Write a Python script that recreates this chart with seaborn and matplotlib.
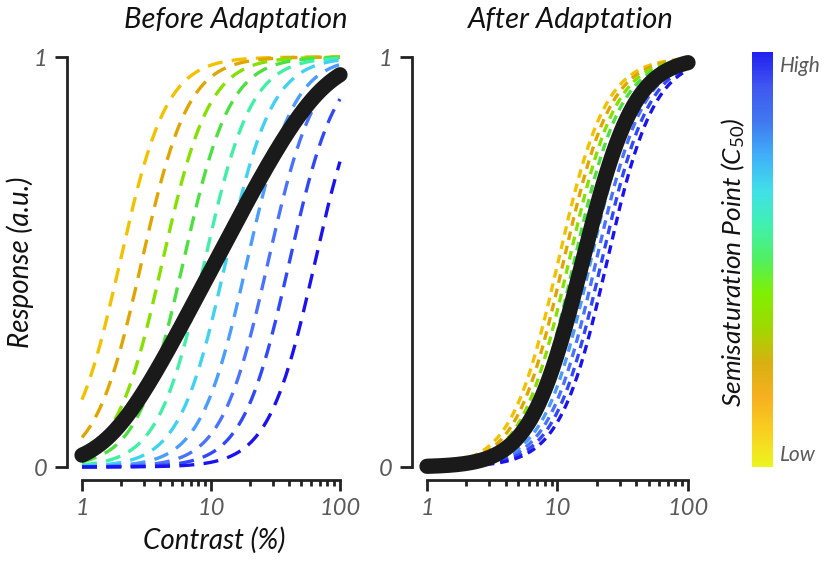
import numpy as np
import pandas as pd
import matplotlib
matplotlib.use("Agg")
import matplotlib.pyplot as plt
import seaborn as sns
from matplotlib.colors import LinearSegmentedColormap
from matplotlib.colorbar import ColorbarBase

# ---- data ----
# semisaturation contrasts (C50, %) of the ten dashed Naka-Rushton curves
c50_before = [1.97, 2.9, 4.2, 6.1, 8.9, 13.0, 19.0, 27.7, 40.5, 64.0]
c50_after = [10.1, 11.1, 12.2, 13.4, 14.8, 16.3, 17.9, 19.7, 21.7, 23.9]
exponent_n = 2.4
curve_colors = ["#F2C200", "#E0A500", "#86E000", "#4CE040", "#3FF0A6",
                "#40D2F2", "#4A9CFF", "#4A72FF", "#3048FA", "#1A12F0"]
x_ticks = [1, 10, 100]
x_ticklabels = ["1", "10", "100"]
y_ticks = [0, 1]
y_ticklabels = ["0", "1"]
cbar_anchor_colors = ["#ECF51E", "#F8D020", "#F7B020", "#D8B010", "#A0D800",
                      "#80F000", "#50F060", "#40F0B0", "#40E0E8", "#40B0F8",
                      "#4078F0", "#4058F0", "#2020F0"]

sns.set_theme(style="white")
plt.rcParams["font.family"] = ["Lato", "DejaVu Sans"]
plt.rcParams["mathtext.fontset"] = "custom"
plt.rcParams["mathtext.it"] = "Lato:italic"
plt.rcParams["mathtext.rm"] = "Lato"

contrast = np.logspace(0, 2, 300)


def curves_frame(c50s):
    rows = []
    for i, c50 in enumerate(c50s):
        r = contrast ** exponent_n / (contrast ** exponent_n + c50 ** exponent_n)
        rows.append(pd.DataFrame({"contrast": contrast, "response": r, "curve": i}))
    df = pd.concat(rows, ignore_index=True)
    mean = df.groupby("contrast", as_index=False)["response"].mean()
    return df, mean


W, H = 828, 562
fig = plt.figure(figsize=(W / 100, H / 100), dpi=100)
ax1 = fig.add_axes([82 / W, 95 / H, 258 / W, 410 / H])
ax2 = fig.add_axes([427 / W, 95 / H, 261 / W, 410 / H])
cax = fig.add_axes([752 / W, 95 / H, 21 / W, 415 / H])

tick_col = "#5a5a5a"
for ax, c50s, dash in [(ax1, c50_before, (4.5, 2.8)), (ax2, c50_after, (2.6, 1.8))]:
    ax.set_xscale("log")
    df, mean = curves_frame(c50s)
    sns.lineplot(data=df, x="contrast", y="response", hue="curve",
                 palette=curve_colors, legend=False, ax=ax, estimator=None,
                 linewidth=2.4, linestyle=(0, dash), clip_on=False)
    sns.lineplot(data=mean, x="contrast", y="response", color="#1a1a1a",
                 linewidth=11, solid_capstyle="round", ax=ax, clip_on=False,
                 estimator=None, zorder=5)
    ax.set_xlim(1, 100)
    ax.set_ylim(0, 1)
    ax.set_xlabel("")
    ax.set_ylabel("")
    sns.despine(ax=ax)
    ax.spines["left"].set_position(("outward", 11))
    ax.spines["bottom"].set_position(("outward", 9))
    for s in ["left", "bottom"]:
        ax.spines[s].set_linewidth(2.0)
        ax.spines[s].set_color("#222222")
    ax.spines["left"].set_bounds(0, 1)
    ax.spines["bottom"].set_bounds(1, 100)
    ax.set_xticks(x_ticks)
    ax.set_xticklabels(x_ticklabels)
    ax.set_xticks([m * d for d in [1, 10] for m in range(2, 10)], minor=True)
    ax.set_yticks(y_ticks)
    ax.set_yticklabels(y_ticklabels)
    ax.tick_params(axis="x", which="major", length=8, width=2, color="#222222",
                   direction="out", pad=5, labelsize=17, labelcolor=tick_col, bottom=True)
    ax.tick_params(axis="x", which="minor", length=4.5, width=2, color="#222222",
                   direction="out", bottom=True)
    ax.tick_params(axis="y", length=9, width=2, color="#222222", direction="out",
                   pad=5, labelsize=17, labelcolor=tick_col, left=True)
    for lab in ax.get_xticklabels() + ax.get_yticklabels():
        lab.set_fontstyle("italic")
    ax.patch.set_alpha(0)

# titles and axis labels
fig.text(236 / W, 1 - 20 / H, "Before Adaptation", ha="center", va="center",
         fontsize=21, style="italic", color="#111111")
fig.text(571 / W, 1 - 20 / H, "After Adaptation", ha="center", va="center",
         fontsize=21, style="italic", color="#111111")
fig.text(20 / W, 1 - 262 / H, "Response (a.u.)", ha="center", va="center",
         rotation=90, fontsize=20, style="italic", color="#111111")
fig.text(214 / W, 1 - 540 / H, "Contrast (%)", ha="center", va="center",
         fontsize=20, style="italic", color="#111111")

# colorbar
cmap = LinearSegmentedColormap.from_list("c50", cbar_anchor_colors, N=256)
cb = ColorbarBase(cax, cmap=cmap, orientation="vertical")
cb.outline.set_visible(False)
cax.set_yticks([])
fig.text(733 / W, 1 - 262 / H, "Semisaturation Point ($\\mathit{C}_{\\mathit{50}}$)",
         ha="center", va="center", rotation=90, fontsize=19, style="italic",
         color="#111111")
fig.text(780 / W, 1 - 66 / H, "High", ha="left", va="center", fontsize=15,
         style="italic", color=tick_col)
fig.text(780 / W, 1 - 455 / H, "Low", ha="left", va="center", fontsize=15,
         style="italic", color=tick_col)

fig.savefig("out.png", dpi=100)
